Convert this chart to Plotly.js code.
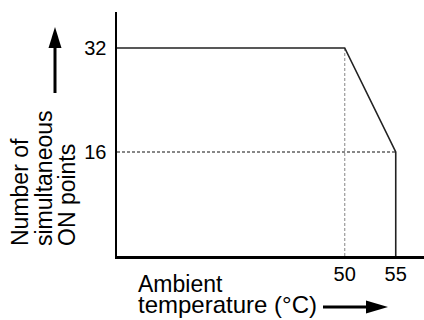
<!DOCTYPE html>
<html><head><meta charset="utf-8">
<script src="https://cdn.plot.ly/plotly-3.0.1.min.js"></script>
<style>html,body{margin:0;padding:0;background:#fff}#chart{width:424px;height:320px}</style>
</head><body><div id="chart"></div>
<script>
// ---- data ----
const X_MIN = 27.68;
const X_MAX = 57.77;
const Y_MIN = 0;
const Y_MAX = 37.54;
const curveTemp = [X_MIN, 50, 55, 55];
const curvePoints = [32, 32, 16, 0];
const ref16Temp = [X_MIN, 55];
const ref16Points = [16, 16];
const ref50Temp = [50, 50];
const ref50Points = [32, 0];
const xTickVals = [50, 55];
const xTickText = ['50', '55'];
const yTickVals = [16, 32];
const yTickText = ['16', '32'];
const yTitleLines = ['Number of', 'simultaneous', 'ON points'];
const xTitleLines = ['Ambient', 'temperature (°C)'];

// ---- layout helpers (pixel -> paper) ----
const W = 424, H = 320, ML = 117, MR = 0, MT = 12, MB = 64;
const PW = W - ML - MR, PH = H - MT - MB;
const px = v => (v - ML) / PW;
const py = v => (H - MB - v) / PH;
const FONT = 'Liberation Sans, Arial, sans-serif';

const traces = [
  {x: ref50Temp, y: ref50Points, mode: 'lines', line: {color: '#9a9a9a', width: 1.2, dash: '3px,2px'}, hoverinfo: 'skip'},
  {x: ref16Temp, y: ref16Points, mode: 'lines', line: {color: '#111', width: 1.2, dash: '3px,2px'}, hoverinfo: 'skip'},
  {x: curveTemp, y: curvePoints, mode: 'lines', line: {color: '#222', width: 1.6}, hoverinfo: 'skip'}
];

const yCols = [20, 44, 67];
const annotations = [];
yTitleLines.forEach((t, i) => annotations.push({
  xref: 'paper', yref: 'paper', x: px(yCols[i]), y: py(247), xanchor: 'center', yanchor: 'bottom',
  text: t, textangle: -90, showarrow: false, font: {family: FONT, size: 23, color: '#000'}, borderpad: 0
}));
const xRows = [284, 304.5];
const xSizes = [23, 24];
xTitleLines.forEach((t, i) => annotations.push({
  xref: 'paper', yref: 'paper', x: px(137), y: py(xRows[i]), xanchor: 'left', yanchor: 'middle',
  text: t, showarrow: false, font: {family: FONT, size: xSizes[i], color: '#000'}, borderpad: 0
}));

const shapes = [
  // up arrow
  {type: 'line', xref: 'paper', yref: 'paper', x0: px(55), x1: px(55), y0: py(93), y1: py(46), line: {color: '#000', width: 3}},
  {type: 'path', xref: 'paper', yref: 'paper',
   path: `M${px(55)},${py(27)} L${px(48.5)},${py(48)} L${px(61.5)},${py(48)} Z`, fillcolor: '#000', line: {width: 0}},
  // right arrow
  {type: 'line', xref: 'paper', yref: 'paper', x0: px(323), x1: px(369), y0: py(307), y1: py(307), line: {color: '#000', width: 3}},
  {type: 'path', xref: 'paper', yref: 'paper',
   path: `M${px(388)},${py(307)} L${px(366)},${py(300.5)} L${px(366)},${py(313.5)} Z`, fillcolor: '#000', line: {width: 0}}
];

const layout = {
  width: W, height: H,
  margin: {l: ML, r: MR, t: MT, b: MB, pad: 0},
  paper_bgcolor: '#fff', plot_bgcolor: '#fff',
  showlegend: false,
  font: {family: FONT, color: '#000'},
  xaxis: {range: [X_MIN, X_MAX], showgrid: false, zeroline: false, showline: true, linecolor: '#000', linewidth: 2.5,
          tickvals: xTickVals, ticktext: xTickText, ticks: '', ticklabelstandoff: -2, tickfont: {family: FONT, size: 20, color: '#000'}, fixedrange: true},
  yaxis: {range: [Y_MIN, Y_MAX], showgrid: false, zeroline: false, showline: true, linecolor: '#000', linewidth: 2.5,
          tickvals: yTickVals, ticktext: yTickText, ticks: '', ticklabelstandoff: 4, tickfont: {family: FONT, size: 20, color: '#000'}, fixedrange: true},
  annotations: annotations,
  shapes: shapes
};

Plotly.newPlot('chart', traces, layout, {staticPlot: true, displayModeBar: false});
</script>
</body></html>
